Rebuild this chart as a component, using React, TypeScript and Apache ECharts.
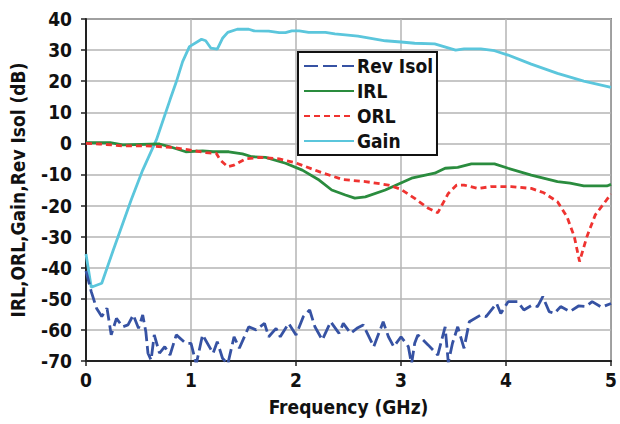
import React, { useEffect, useRef } from "react";
import * as echarts from "echarts";

const xTicks = [0, 1, 2, 3, 4, 5];
const yTicks = [-70, -60, -50, -40, -30, -20, -10, 0, 10, 20, 30, 40];

const gainFreq = [0, 0.05, 0.15, 0.26, 0.43, 0.54, 0.67, 0.8, 0.86, 0.92, 0.985, 1.1, 1.14, 1.19, 1.25, 1.3, 1.35, 1.44, 1.55, 1.6, 1.74, 1.84, 1.9, 1.96, 2.03, 2.12, 2.28, 2.37, 2.47, 2.59, 2.85, 3.0, 3.13, 3.32, 3.52, 3.6, 3.76, 3.89, 4.02, 4.24, 4.49, 4.74, 5.0];
const gainDb = [-35.6, -46.3, -45, -34.3, -18.2, -8.6, 1.1, 14, 19.8, 26.3, 31.1, 33.5, 33, 30.6, 30.3, 33.8, 35.7, 36.7, 36.7, 36.2, 36.1, 35.6, 35.6, 36.2, 36.2, 35.7, 35.7, 35.2, 34.9, 34.5, 33, 32.6, 32.2, 32, 30, 30.4, 30.4, 29.8, 28.4, 25.5, 22.5, 20, 18];

const irlFreq = [0, 0.23, 0.35, 0.7, 0.8, 0.95, 1.11, 1.21, 1.36, 1.49, 1.58, 1.71, 1.9, 2.06, 2.22, 2.34, 2.47, 2.56, 2.66, 2.85, 3.1, 3.32, 3.42, 3.54, 3.67, 3.89, 4.02, 4.24, 4.49, 4.61, 4.74, 4.96, 5.0];
const irlDb = [0.2, 0.2, -0.5, -0.2, -1.1, -2.7, -2.4, -2.7, -2.7, -3.4, -4.3, -4.5, -6.4, -8.6, -11.8, -15, -16.6, -17.6, -17.2, -15, -11.2, -9.6, -8, -7.7, -6.6, -6.6, -8, -10.2, -12.3, -12.8, -13.7, -13.7, -13.2];

const orlFreq = [0, 0.13, 0.35, 0.57, 0.83, 0.98, 1.14, 1.24, 1.28, 1.35, 1.41, 1.52, 1.66, 1.84, 2.0, 2.22, 2.44, 2.66, 2.88, 3.0, 3.13, 3.26, 3.35, 3.45, 3.53, 3.6, 3.73, 3.86, 4.05, 4.24, 4.36, 4.49, 4.58, 4.65, 4.7, 4.77, 4.85, 5.0];
const orlDb = [0, -0.2, -0.8, -0.8, -1.3, -2.1, -3, -3.2, -5.4, -7.5, -7, -5, -4.5, -5, -6.3, -9.1, -11.6, -12.3, -13.4, -14.8, -17.7, -20.9, -22.3, -16.1, -13.4, -13.4, -14.5, -13.9, -13.9, -14.5, -15.9, -18.8, -23.6, -30, -38, -30, -23, -16.3];

const isoFreq = [0, 0.05, 0.1, 0.15, 0.2, 0.24, 0.29, 0.35, 0.4, 0.45, 0.5, 0.54, 0.57, 0.59, 0.62, 0.65, 0.7, 0.75, 0.8, 0.86, 0.95, 1.0, 1.05, 1.11, 1.21, 1.25, 1.3, 1.35, 1.41, 1.46, 1.55, 1.62, 1.7, 1.74, 1.81, 1.85, 1.93, 2.0, 2.07, 2.13, 2.18, 2.25, 2.33, 2.41, 2.45, 2.52, 2.58, 2.64, 2.74, 2.83, 2.88, 2.93, 3.0, 3.07, 3.1, 3.13, 3.16, 3.26, 3.35, 3.42, 3.45, 3.49, 3.54, 3.6, 3.65, 3.76, 3.81, 3.91, 3.95, 4.02, 4.11, 4.17, 4.25, 4.3, 4.35, 4.41, 4.46, 4.52, 4.61, 4.69, 4.76, 4.82, 4.91, 5.0];
const isoDb = [-41, -47.7, -53, -55.7, -53, -61.6, -56.3, -59, -58.4, -55.2, -59.5, -55.2, -60.6, -67.5, -69.7, -61.6, -67.5, -65.4, -68.1, -61.6, -64.3, -64.3, -71, -61.6, -67.5, -63.8, -69.1, -71, -62.2, -65.9, -59, -60, -57.9, -62.2, -59.5, -62.2, -57.9, -61.6, -55.7, -53.6, -59, -63.2, -57.4, -61.1, -57.9, -61.1, -59.5, -58.4, -65.4, -57.4, -62.2, -65.4, -62.2, -65.4, -71, -64.3, -61.6, -64.9, -68.1, -59, -70.5, -64.3, -59, -65.9, -57.4, -55.2, -55.7, -51.5, -54.7, -50.9, -50.9, -53.6, -52, -52.5, -49.3, -54.1, -54.7, -52.5, -54.1, -52.3, -52.5, -50.9, -52.7, -51.5];

const zip = (xs: number[], ys: number[]) => xs.map((x, i) => [x, ys[i]]);

const FONT = "'Liberation Sans Narrow', 'DejaVu Sans Condensed', 'Open Sans', sans-serif";

export default function App() {
  const ref = useRef<HTMLDivElement>(null);
  useEffect(() => {
    const chart = echarts.init(ref.current!, null, { renderer: "svg" });
    const labelStyle = { fontFamily: FONT, fontWeight: "bold" as const, fontSize: 19, color: "#111" };
    chart.setOption({
      animation: false,
      backgroundColor: "#fff",
      grid: {
        left: 86, right: 6, top: 19, bottom: 63,
        show: true, borderColor: "#333", borderWidth: 1.5,
      },
      legend: {
        left: 298, top: 52, orient: "vertical",
        data: ["Rev Isol", "IRL", "ORL", "Gain"],
        backgroundColor: "#fff",
        borderColor: "#111", borderWidth: 2, borderRadius: 0,
        padding: [4, 4, 4, 5],
        itemWidth: 50, itemHeight: 14, itemGap: 5,
        itemStyle: { opacity: 0 },
        textStyle: { ...labelStyle, fontSize: 19, lineHeight: 20, padding: [0, 0, 0, -2] },
      },
      xAxis: {
        type: "value", min: 0, max: 5, interval: 1,
        name: "Frequency (GHz)", nameLocation: "middle", nameGap: 36,
        nameTextStyle: { ...labelStyle, fontSize: 19 },
        axisLine: { show: true, onZero: false, lineStyle: { color: "#222", width: 2 } },
        axisTick: { show: true, length: 5, lineStyle: { color: "#222", width: 1.5 } },
        axisLabel: { ...labelStyle, margin: 9, formatter: (v: number) => (xTicks.includes(v) ? String(v) : "") },
        splitLine: { show: true, lineStyle: { color: "#b4b4b4", width: 1.5 } },
      },
      yAxis: {
        type: "value", min: -70, max: 40, interval: 10,
        name: "IRL,ORL,Gain,Rev Isol (dB)", nameLocation: "middle", nameGap: 59, nameRotate: 90,
        nameTextStyle: { ...labelStyle, fontSize: 19 },
        axisLine: { show: true, onZero: false, lineStyle: { color: "#222", width: 2 } },
        axisTick: { show: true, length: 5, lineStyle: { color: "#222", width: 1.5 } },
        axisLabel: { ...labelStyle, margin: 14, formatter: (v: number) => (yTicks.includes(v) ? String(v) : "") },
        splitLine: { show: true, lineStyle: { color: "#b4b4b4", width: 1.5 } },
      },
      series: [
        {
          name: "Rev Isol", type: "line", symbol: "none", z: 3,
          data: zip(isoFreq, isoDb),
          lineStyle: { color: "#3652a3", width: 2.8, type: [14, 5] },
          itemStyle: { color: "#3652a3" },
        },
        {
          name: "IRL", type: "line", symbol: "none", z: 4,
          data: zip(irlFreq, irlDb),
          lineStyle: { color: "#2a8c3e", width: 2.8 },
          itemStyle: { color: "#2a8c3e" },
        },
        {
          name: "ORL", type: "line", symbol: "none", z: 5,
          data: zip(orlFreq, orlDb),
          lineStyle: { color: "#ef3330", width: 2.8, type: [6, 4] },
          itemStyle: { color: "#ef3330" },
        },
        {
          name: "Gain", type: "line", symbol: "none", z: 2,
          data: zip(gainFreq, gainDb),
          lineStyle: { color: "#5bc6dc", width: 2.8 },
          itemStyle: { color: "#5bc6dc" },
        },
      ],
    });
    return () => chart.dispose();
  }, []);
  return <div ref={ref} style={{ position: "fixed", left: 0, top: 0, width: 620, height: 424 }} />;
}
